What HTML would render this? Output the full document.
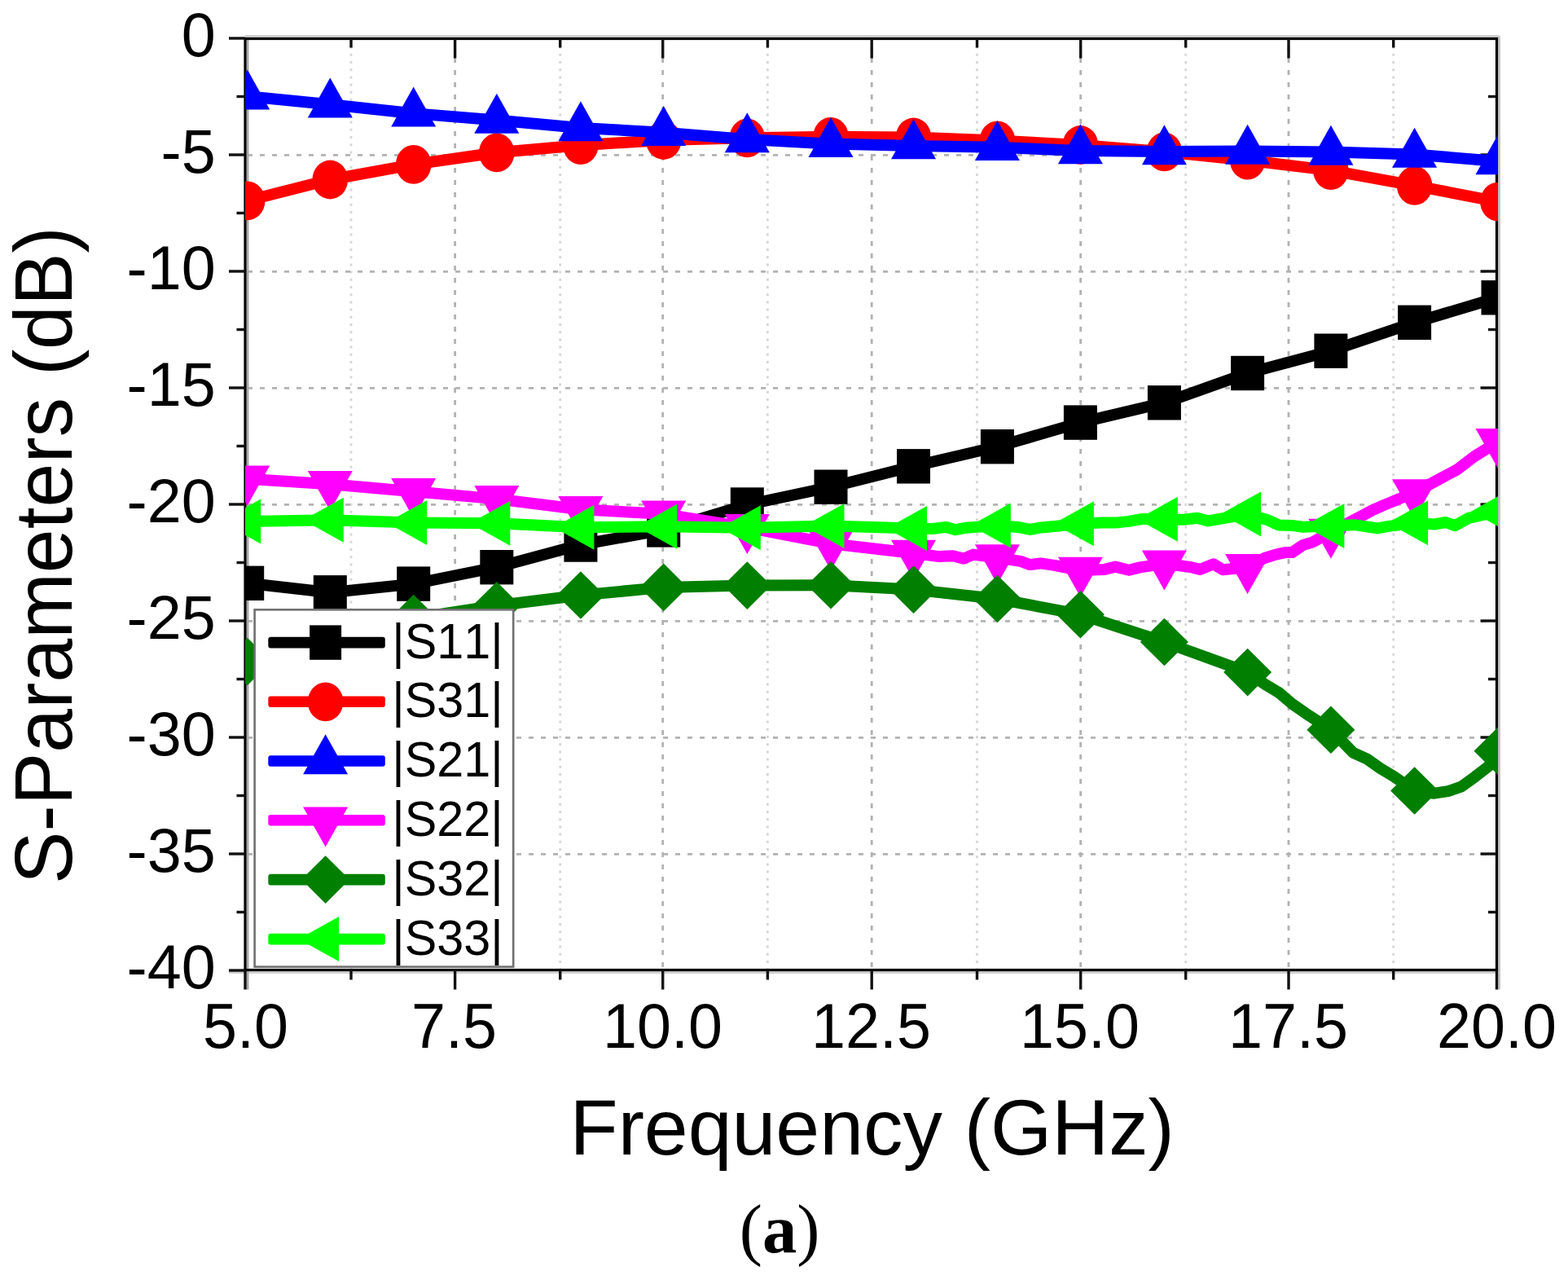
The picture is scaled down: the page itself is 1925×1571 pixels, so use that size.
<!DOCTYPE html>
<html><head><meta charset="utf-8"><title>S-Parameters</title>
<style>html,body{margin:0;padding:0;background:#fff;}svg{display:block;}text{font-kerning:none;font-feature-settings:"kern" 0;}</style>
</head><body>
<svg width="1925" height="1571" viewBox="0 0 1925 1571">
<rect width="1925" height="1571" fill="#fff"/>
<defs><clipPath id="pc"><rect x="301" y="47.5" width="1538" height="1143"/></clipPath></defs>
<line x1="431" y1="47.4" x2="431" y2="1189" stroke="#d6d6d6" stroke-width="2.8" stroke-dasharray="3 6.2"/><line x1="558.6" y1="56" x2="558.6" y2="1189" stroke="#b2b2b2" stroke-width="2.8" stroke-dasharray="6 9"/><line x1="687.7" y1="47.4" x2="687.7" y2="1189" stroke="#d6d6d6" stroke-width="2.8" stroke-dasharray="3 6.2"/><line x1="813.7" y1="56" x2="813.7" y2="1189" stroke="#b2b2b2" stroke-width="2.8" stroke-dasharray="6 9"/><line x1="942.4" y1="47.4" x2="942.4" y2="1189" stroke="#d6d6d6" stroke-width="2.8" stroke-dasharray="3 6.2"/><line x1="1070.2" y1="56" x2="1070.2" y2="1189" stroke="#b2b2b2" stroke-width="2.8" stroke-dasharray="6 9"/><line x1="1199.5" y1="47.4" x2="1199.5" y2="1189" stroke="#d6d6d6" stroke-width="2.8" stroke-dasharray="3 6.2"/><line x1="1326.7" y1="56" x2="1326.7" y2="1189" stroke="#b2b2b2" stroke-width="2.8" stroke-dasharray="6 9"/><line x1="1455.7" y1="47.4" x2="1455.7" y2="1189" stroke="#d6d6d6" stroke-width="2.8" stroke-dasharray="3 6.2"/><line x1="1582" y1="56" x2="1582" y2="1189" stroke="#b2b2b2" stroke-width="2.8" stroke-dasharray="6 9"/><line x1="1710.7" y1="47.4" x2="1710.7" y2="1189" stroke="#d6d6d6" stroke-width="2.8" stroke-dasharray="3 6.2"/><line x1="304" y1="190.3" x2="1835" y2="190.3" stroke="#b2b2b2" stroke-width="2.8" stroke-dasharray="6 9"/><line x1="304" y1="333.3" x2="1835" y2="333.3" stroke="#b2b2b2" stroke-width="2.8" stroke-dasharray="6 9"/><line x1="304" y1="476.3" x2="1835" y2="476.3" stroke="#b2b2b2" stroke-width="2.8" stroke-dasharray="6 9"/><line x1="304" y1="619.3" x2="1835" y2="619.3" stroke="#b2b2b2" stroke-width="2.8" stroke-dasharray="6 9"/><line x1="304" y1="762.3" x2="1835" y2="762.3" stroke="#b2b2b2" stroke-width="2.8" stroke-dasharray="6 9"/><line x1="304" y1="905.3" x2="1835" y2="905.3" stroke="#b2b2b2" stroke-width="2.8" stroke-dasharray="6 9"/><line x1="304" y1="1048.3" x2="1835" y2="1048.3" stroke="#b2b2b2" stroke-width="2.8" stroke-dasharray="6 9"/>
<line x1="301.0" y1="44.5" x2="1840.5" y2="44.5" stroke="#d0d0d0" stroke-width="3"/>
<line x1="1840.5" y1="44.5" x2="1840.5" y2="1214.5" stroke="#c4c4c4" stroke-width="3"/>
<line x1="281" y1="1193.5" x2="1840.5" y2="1193.5" stroke="#d0d0d0" stroke-width="3"/>
<line x1="304" y1="47.5" x2="304" y2="1214.5" stroke="#a8a8a8" stroke-width="3"/>
<rect x="301.0" y="47.5" width="1536.5" height="1143" fill="none" stroke="#000" stroke-width="3.2"/>
<g stroke="#111" stroke-width="3.4"><line x1="301.0" y1="1190.5" x2="301.0" y2="1214.5"/><line x1="431" y1="1190.5" x2="431" y2="1202.5"/><line x1="431" y1="47.5" x2="431" y2="58.5"/><line x1="558.6" y1="1190.5" x2="558.6" y2="1214.5"/><line x1="558.6" y1="47.5" x2="558.6" y2="71.5"/><line x1="687.7" y1="1190.5" x2="687.7" y2="1202.5"/><line x1="687.7" y1="47.5" x2="687.7" y2="58.5"/><line x1="813.7" y1="1190.5" x2="813.7" y2="1214.5"/><line x1="813.7" y1="47.5" x2="813.7" y2="71.5"/><line x1="942.4" y1="1190.5" x2="942.4" y2="1202.5"/><line x1="942.4" y1="47.5" x2="942.4" y2="58.5"/><line x1="1070.2" y1="1190.5" x2="1070.2" y2="1214.5"/><line x1="1070.2" y1="47.5" x2="1070.2" y2="71.5"/><line x1="1199.5" y1="1190.5" x2="1199.5" y2="1202.5"/><line x1="1199.5" y1="47.5" x2="1199.5" y2="58.5"/><line x1="1326.7" y1="1190.5" x2="1326.7" y2="1214.5"/><line x1="1326.7" y1="47.5" x2="1326.7" y2="71.5"/><line x1="1455.7" y1="1190.5" x2="1455.7" y2="1202.5"/><line x1="1455.7" y1="47.5" x2="1455.7" y2="58.5"/><line x1="1582" y1="1190.5" x2="1582" y2="1214.5"/><line x1="1582" y1="47.5" x2="1582" y2="71.5"/><line x1="1710.7" y1="1190.5" x2="1710.7" y2="1202.5"/><line x1="1710.7" y1="47.5" x2="1710.7" y2="58.5"/><line x1="1837.5" y1="1190.5" x2="1837.5" y2="1214.5"/><line x1="281" y1="47" x2="301.0" y2="47"/><line x1="290.5" y1="118.5" x2="301.0" y2="118.5"/><line x1="1827" y1="118.5" x2="1837.5" y2="118.5"/><line x1="281" y1="190" x2="301.0" y2="190"/><line x1="1817.5" y1="190" x2="1837.5" y2="190"/><line x1="290.5" y1="261.5" x2="301.0" y2="261.5"/><line x1="1827" y1="261.5" x2="1837.5" y2="261.5"/><line x1="281" y1="333" x2="301.0" y2="333"/><line x1="1817.5" y1="333" x2="1837.5" y2="333"/><line x1="290.5" y1="404.5" x2="301.0" y2="404.5"/><line x1="1827" y1="404.5" x2="1837.5" y2="404.5"/><line x1="281" y1="476" x2="301.0" y2="476"/><line x1="1817.5" y1="476" x2="1837.5" y2="476"/><line x1="290.5" y1="547.5" x2="301.0" y2="547.5"/><line x1="1827" y1="547.5" x2="1837.5" y2="547.5"/><line x1="281" y1="619" x2="301.0" y2="619"/><line x1="1817.5" y1="619" x2="1837.5" y2="619"/><line x1="290.5" y1="690.5" x2="301.0" y2="690.5"/><line x1="1827" y1="690.5" x2="1837.5" y2="690.5"/><line x1="281" y1="762" x2="301.0" y2="762"/><line x1="1817.5" y1="762" x2="1837.5" y2="762"/><line x1="290.5" y1="833.5" x2="301.0" y2="833.5"/><line x1="1827" y1="833.5" x2="1837.5" y2="833.5"/><line x1="281" y1="905" x2="301.0" y2="905"/><line x1="1817.5" y1="905" x2="1837.5" y2="905"/><line x1="290.5" y1="976.5" x2="301.0" y2="976.5"/><line x1="1827" y1="976.5" x2="1837.5" y2="976.5"/><line x1="281" y1="1048" x2="301.0" y2="1048"/><line x1="1817.5" y1="1048" x2="1837.5" y2="1048"/><line x1="290.5" y1="1119.5" x2="301.0" y2="1119.5"/><line x1="1827" y1="1119.5" x2="1837.5" y2="1119.5"/><line x1="281" y1="1191" x2="301.0" y2="1191"/></g>
<g clip-path="url(#pc)">
<path d="M303.7,715.8 L405.3,727.3 L507.7,716.6 L609.8,696.2 L712.9,668.5 L814.7,650.4 L917.3,619.5 L1020,597.7 L1121.5,572.3 L1224.4,548.2 L1326.4,518.6 L1429.4,494.3 L1531.6,458 L1633.9,430.7 L1736.6,395.8 L1839,365.3" fill="none" stroke="#000000" stroke-width="14" stroke-linejoin="round" stroke-linecap="round"/>
<rect x="283.2" y="694.6" width="41" height="42.4" fill="#000000"/><rect x="384.8" y="706.1" width="41" height="42.4" fill="#000000"/><rect x="487.2" y="695.4" width="41" height="42.4" fill="#000000"/><rect x="589.3" y="675" width="41" height="42.4" fill="#000000"/><rect x="692.4" y="647.3" width="41" height="42.4" fill="#000000"/><rect x="794.2" y="629.2" width="41" height="42.4" fill="#000000"/><rect x="896.8" y="598.3" width="41" height="42.4" fill="#000000"/><rect x="999.5" y="576.5" width="41" height="42.4" fill="#000000"/><rect x="1101" y="551.1" width="41" height="42.4" fill="#000000"/><rect x="1203.9" y="527" width="41" height="42.4" fill="#000000"/><rect x="1305.9" y="497.4" width="41" height="42.4" fill="#000000"/><rect x="1408.9" y="473.1" width="41" height="42.4" fill="#000000"/><rect x="1511.1" y="436.8" width="41" height="42.4" fill="#000000"/><rect x="1613.4" y="409.5" width="41" height="42.4" fill="#000000"/><rect x="1716.1" y="374.6" width="41" height="42.4" fill="#000000"/><rect x="1818.5" y="344.1" width="41" height="42.4" fill="#000000"/>
<path d="M303.7,246.3 L405.3,220.5 L507.7,201.8 L609.8,187.3 L712.9,178.2 L814.7,172 L917.3,169.3 L1020,167.8 L1121.5,168.5 L1224.4,172.4 L1326.4,178 L1429.4,186.3 L1531.6,196.7 L1633.9,209.1 L1736.6,227.8 L1839,247.7" fill="none" stroke="#ff0000" stroke-width="14" stroke-linejoin="round" stroke-linecap="round"/>
<ellipse cx="303.7" cy="246.3" rx="21.8" ry="23.9" fill="#ff0000"/><ellipse cx="405.3" cy="220.5" rx="21.8" ry="23.9" fill="#ff0000"/><ellipse cx="507.7" cy="201.8" rx="21.8" ry="23.9" fill="#ff0000"/><ellipse cx="609.8" cy="187.3" rx="21.8" ry="23.9" fill="#ff0000"/><ellipse cx="712.9" cy="178.2" rx="21.8" ry="23.9" fill="#ff0000"/><ellipse cx="814.7" cy="172" rx="21.8" ry="23.9" fill="#ff0000"/><ellipse cx="917.3" cy="169.3" rx="21.8" ry="23.9" fill="#ff0000"/><ellipse cx="1020" cy="167.8" rx="21.8" ry="23.9" fill="#ff0000"/><ellipse cx="1121.5" cy="168.5" rx="21.8" ry="23.9" fill="#ff0000"/><ellipse cx="1224.4" cy="172.4" rx="21.8" ry="23.9" fill="#ff0000"/><ellipse cx="1326.4" cy="178" rx="21.8" ry="23.9" fill="#ff0000"/><ellipse cx="1429.4" cy="186.3" rx="21.8" ry="23.9" fill="#ff0000"/><ellipse cx="1531.6" cy="196.7" rx="21.8" ry="23.9" fill="#ff0000"/><ellipse cx="1633.9" cy="209.1" rx="21.8" ry="23.9" fill="#ff0000"/><ellipse cx="1736.6" cy="227.8" rx="21.8" ry="23.9" fill="#ff0000"/><ellipse cx="1839" cy="247.7" rx="21.8" ry="23.9" fill="#ff0000"/>
<path d="M303.7,118.2 L405.3,128.2 L507.7,139.3 L609.8,147.5 L712.9,157 L814.7,162.7 L917.3,171 L1020,176.6 L1121.5,179 L1224.4,180.8 L1326.4,185 L1429.4,186 L1531.6,185.5 L1633.9,186.5 L1736.6,189.5 L1839,198" fill="none" stroke="#0000ff" stroke-width="14" stroke-linejoin="round" stroke-linecap="round"/>
<polygon points="303.7,85.5 331.2,134.5 276.2,134.5" fill="#0000ff"/><polygon points="405.3,95.5 432.8,144.5 377.8,144.5" fill="#0000ff"/><polygon points="507.7,106.6 535.2,155.6 480.2,155.6" fill="#0000ff"/><polygon points="609.8,114.8 637.3,163.8 582.3,163.8" fill="#0000ff"/><polygon points="712.9,124.3 740.4,173.3 685.4,173.3" fill="#0000ff"/><polygon points="814.7,130 842.2,179 787.2,179" fill="#0000ff"/><polygon points="917.3,138.3 944.8,187.3 889.8,187.3" fill="#0000ff"/><polygon points="1020,143.9 1047.5,192.9 992.5,192.9" fill="#0000ff"/><polygon points="1121.5,146.3 1149,195.3 1094,195.3" fill="#0000ff"/><polygon points="1224.4,148.1 1251.9,197.1 1196.9,197.1" fill="#0000ff"/><polygon points="1326.4,152.3 1353.9,201.3 1298.9,201.3" fill="#0000ff"/><polygon points="1429.4,153.3 1456.9,202.3 1401.9,202.3" fill="#0000ff"/><polygon points="1531.6,152.8 1559.1,201.8 1504.1,201.8" fill="#0000ff"/><polygon points="1633.9,153.8 1661.4,202.8 1606.4,202.8" fill="#0000ff"/><polygon points="1736.6,156.8 1764.1,205.8 1709.1,205.8" fill="#0000ff"/><polygon points="1839,165.3 1866.5,214.3 1811.5,214.3" fill="#0000ff"/>
<path d="M303.7,587.8 L405.3,594.2 L507.7,603.3 L609.8,612.4 L712.9,625.3 L814.7,630.8 L917.3,647.3 L1020,667.3 L1121.5,679 L1153.2,683.1 L1169.9,682.3 L1183.2,685.6 L1194.8,680.6 L1224.4,684.5 L1253,688.9 L1264.6,693.1 L1277.9,691.4 L1294.5,693.9 L1326.4,700 L1356,698.9 L1369.3,695.6 L1386,699.7 L1399.3,696.4 L1429.4,691.8 L1461.6,696 L1473.2,698.9 L1489.8,692.2 L1501.4,699.2 L1531.6,696.3 L1553,684.7 L1566.3,680.6 L1577.9,678.1 L1586.2,678.1 L1599.5,669 L1611.2,665.6 L1633.9,653 L1684,626.7 L1698,620.4 L1736.6,604.5 L1768,587.5 L1789,576.3 L1810,560.2 L1839,542.2" fill="none" stroke="#ff00ff" stroke-width="14" stroke-linejoin="round" stroke-linecap="round"/>
<polygon points="303.7,620.5 331.2,571.5 276.2,571.5" fill="#ff00ff"/><polygon points="405.3,626.9 432.8,577.9 377.8,577.9" fill="#ff00ff"/><polygon points="507.7,636 535.2,587 480.2,587" fill="#ff00ff"/><polygon points="609.8,645.1 637.3,596.1 582.3,596.1" fill="#ff00ff"/><polygon points="712.9,658 740.4,609 685.4,609" fill="#ff00ff"/><polygon points="814.7,663.5 842.2,614.5 787.2,614.5" fill="#ff00ff"/><polygon points="917.3,680 944.8,631 889.8,631" fill="#ff00ff"/><polygon points="1020,700 1047.5,651 992.5,651" fill="#ff00ff"/><polygon points="1121.5,711.7 1149,662.7 1094,662.7" fill="#ff00ff"/><polygon points="1224.4,717.2 1251.9,668.2 1196.9,668.2" fill="#ff00ff"/><polygon points="1326.4,732.7 1353.9,683.7 1298.9,683.7" fill="#ff00ff"/><polygon points="1429.4,724.5 1456.9,675.5 1401.9,675.5" fill="#ff00ff"/><polygon points="1531.6,729 1559.1,680 1504.1,680" fill="#ff00ff"/><polygon points="1633.9,685.7 1661.4,636.7 1606.4,636.7" fill="#ff00ff"/><polygon points="1736.6,637.2 1764.1,588.2 1709.1,588.2" fill="#ff00ff"/><polygon points="1839,574.9 1866.5,525.9 1811.5,525.9" fill="#ff00ff"/>
<path d="M303.7,812 L405.3,782 L507.7,759 L609.8,743.2 L712.9,730.5 L814.7,720.9 L917.3,718.6 L1020,718.2 L1121.5,723.6 L1224.4,735 L1326.4,754.2 L1429.4,788 L1531.6,825.1 L1553.2,839.9 L1569.9,849.9 L1586.5,864 L1603.1,875.6 L1633.9,895.7 L1661.3,923.8 L1677.9,931.3 L1694.5,943 L1711.2,952.9 L1736.6,970.5 L1761,973.7 L1777.6,971.2 L1794.3,965.4 L1810.9,953.3 L1827.5,940.5 L1839,921.8" fill="none" stroke="#007f00" stroke-width="14" stroke-linejoin="round" stroke-linecap="round"/>
<polygon points="303.7,782.7 333.2,812 303.7,841.3 274.2,812" fill="#007f00"/><polygon points="405.3,752.7 434.8,782 405.3,811.3 375.8,782" fill="#007f00"/><polygon points="507.7,729.7 537.2,759 507.7,788.3 478.2,759" fill="#007f00"/><polygon points="609.8,713.9 639.3,743.2 609.8,772.5 580.3,743.2" fill="#007f00"/><polygon points="712.9,701.2 742.4,730.5 712.9,759.8 683.4,730.5" fill="#007f00"/><polygon points="814.7,691.6 844.2,720.9 814.7,750.2 785.2,720.9" fill="#007f00"/><polygon points="917.3,689.3 946.8,718.6 917.3,747.9 887.8,718.6" fill="#007f00"/><polygon points="1020,688.9 1049.5,718.2 1020,747.5 990.5,718.2" fill="#007f00"/><polygon points="1121.5,694.3 1151,723.6 1121.5,752.9 1092,723.6" fill="#007f00"/><polygon points="1224.4,705.7 1253.9,735 1224.4,764.3 1194.9,735" fill="#007f00"/><polygon points="1326.4,724.9 1355.9,754.2 1326.4,783.5 1296.9,754.2" fill="#007f00"/><polygon points="1429.4,758.7 1458.9,788 1429.4,817.3 1399.9,788" fill="#007f00"/><polygon points="1531.6,795.8 1561.1,825.1 1531.6,854.4 1502.1,825.1" fill="#007f00"/><polygon points="1633.9,866.4 1663.4,895.7 1633.9,925 1604.4,895.7" fill="#007f00"/><polygon points="1736.6,941.2 1766.1,970.5 1736.6,999.8 1707.1,970.5" fill="#007f00"/><polygon points="1839,892.5 1868.5,921.8 1839,951.1 1809.5,921.8" fill="#007f00"/>
<path d="M303.7,640 L405.3,638.2 L507.7,641.4 L609.8,642.3 L712.9,647.3 L814.7,646.3 L917.3,647.8 L1020,645.5 L1121.5,648.6 L1144.9,649 L1161.6,646.9 L1173.2,650.2 L1186.5,647.7 L1224.4,645 L1249.7,646.9 L1264.6,649.9 L1277.9,647.4 L1294.5,646 L1326.4,642.7 L1352.7,641.6 L1369.3,641.6 L1386,639.9 L1402.6,636.9 L1429.4,637.3 L1453.2,637.7 L1469.9,635.7 L1483.2,639.4 L1494.8,637.4 L1531.6,630.9 L1556.3,638.2 L1569.6,644.4 L1586.2,644.9 L1599.5,646.8 L1633.9,645.5 L1663,644.2 L1691,648.4 L1705,645.9 L1736.6,641.8 L1761,643.5 L1775,641 L1786.2,645.2 L1803,635.8 L1839,627.7" fill="none" stroke="#00ff00" stroke-width="14" stroke-linejoin="round" stroke-linecap="round"/>
<polygon points="270.7,640 320.2,612.5 320.2,667.5" fill="#00ff00"/><polygon points="372.3,638.2 421.8,610.7 421.8,665.7" fill="#00ff00"/><polygon points="474.7,641.4 524.2,613.9 524.2,668.9" fill="#00ff00"/><polygon points="576.8,642.3 626.3,614.8 626.3,669.8" fill="#00ff00"/><polygon points="679.9,647.3 729.4,619.8 729.4,674.8" fill="#00ff00"/><polygon points="781.7,646.3 831.2,618.8 831.2,673.8" fill="#00ff00"/><polygon points="884.3,647.8 933.8,620.3 933.8,675.3" fill="#00ff00"/><polygon points="987,645.5 1036.5,618 1036.5,673" fill="#00ff00"/><polygon points="1088.5,648.6 1138,621.1 1138,676.1" fill="#00ff00"/><polygon points="1191.4,645 1240.9,617.5 1240.9,672.5" fill="#00ff00"/><polygon points="1293.4,642.7 1342.9,615.2 1342.9,670.2" fill="#00ff00"/><polygon points="1396.4,637.3 1445.9,609.8 1445.9,664.8" fill="#00ff00"/><polygon points="1498.6,630.9 1548.1,603.4 1548.1,658.4" fill="#00ff00"/><polygon points="1600.9,645.5 1650.4,618 1650.4,673" fill="#00ff00"/><polygon points="1703.6,641.8 1753.1,614.3 1753.1,669.3" fill="#00ff00"/><polygon points="1806,627.7 1855.5,600.2 1855.5,655.2" fill="#00ff00"/>
</g>
<rect x="312.6" y="748.3" width="317.6" height="438.3" fill="#fff" stroke="#707070" stroke-width="2.6"/>
<rect x="329.3" y="781.8" width="143.5" height="13.6" rx="3" fill="#000000"/>
<rect x="380.1" y="767.4" width="39" height="42.4" fill="#000000"/>
<text transform="translate(481.3,807.5) scale(1,1.04)" font-size="59.3" font-family="&quot;Liberation Sans&quot;, Arial, sans-serif">|S11|</text>
<rect x="329.3" y="854.5" width="143.5" height="13.6" rx="3" fill="#ff0000"/>
<ellipse cx="399.6" cy="861.3" rx="21.8" ry="23.9" fill="#ff0000"/>
<text transform="translate(481.3,880.2) scale(1,1.04)" font-size="59.3" font-family="&quot;Liberation Sans&quot;, Arial, sans-serif">|S31|</text>
<rect x="329.3" y="927.2" width="143.5" height="13.6" rx="3" fill="#0000ff"/>
<polygon points="399.6,901.3 427.1,950.3 372.1,950.3" fill="#0000ff"/>
<text transform="translate(481.3,952.9) scale(1,1.04)" font-size="59.3" font-family="&quot;Liberation Sans&quot;, Arial, sans-serif">|S21|</text>
<rect x="329.3" y="1000" width="143.5" height="13.6" rx="3" fill="#ff00ff"/>
<polygon points="399.6,1039.5 427.1,990.5 372.1,990.5" fill="#ff00ff"/>
<text transform="translate(481.3,1025.7) scale(1,1.04)" font-size="59.3" font-family="&quot;Liberation Sans&quot;, Arial, sans-serif">|S22|</text>
<rect x="329.3" y="1072.8" width="143.5" height="13.6" rx="3" fill="#007f00"/>
<polygon points="399.6,1050.3 429.1,1079.6 399.6,1108.9 370.1,1079.6" fill="#007f00"/>
<text transform="translate(481.3,1098.5) scale(1,1.04)" font-size="59.3" font-family="&quot;Liberation Sans&quot;, Arial, sans-serif">|S32|</text>
<rect x="329.3" y="1145.8" width="143.5" height="13.6" rx="3" fill="#00ff00"/>
<polygon points="366.6,1152.6 416.1,1125.1 416.1,1180.1" fill="#00ff00"/>
<text transform="translate(481.3,1171.5) scale(1,1.04)" font-size="59.3" font-family="&quot;Liberation Sans&quot;, Arial, sans-serif">|S33|</text>
<g font-size="75.5" font-family="&quot;Liberation Sans&quot;, Arial, sans-serif" fill="#000"><text x="264.7" y="68.6" text-anchor="end">0</text><text x="264.7" y="211.6" text-anchor="end">-5</text><text x="264.7" y="354.6" text-anchor="end">-10</text><text x="264.7" y="497.6" text-anchor="end">-15</text><text x="264.7" y="640.6" text-anchor="end">-20</text><text x="264.7" y="783.6" text-anchor="end">-25</text><text x="264.7" y="926.6" text-anchor="end">-30</text><text x="264.7" y="1069.6" text-anchor="end">-35</text><text x="264.7" y="1212.6" text-anchor="end">-40</text><text transform="translate(301.4,1286.3) scale(1,1.033)" text-anchor="middle">5.0</text><text transform="translate(557.4,1286.3) scale(1,1.033)" text-anchor="middle">7.5</text><text transform="translate(813.4,1286.3) scale(1,1.033)" text-anchor="middle">10.0</text><text transform="translate(1069.4,1286.3) scale(1,1.033)" text-anchor="middle">12.5</text><text transform="translate(1325.4,1286.3) scale(1,1.033)" text-anchor="middle">15.0</text><text transform="translate(1581.4,1286.3) scale(1,1.033)" text-anchor="middle">17.5</text><text transform="translate(1837.4,1286.3) scale(1,1.033)" text-anchor="middle">20.0</text></g>
<text x="699.5" y="1417" font-size="96.8" font-family="&quot;Liberation Sans&quot;, Arial, sans-serif">Frequency (GHz)</text>
<text transform="translate(87.5,1085) rotate(-90) scale(1,1.025)" x="0" y="0" font-size="96.8" font-family="&quot;Liberation Sans&quot;, Arial, sans-serif">S-Parameters (dB)</text>
<text x="957" y="1537" text-anchor="middle" font-size="84.5" font-family="&quot;Liberation Serif&quot;, &quot;Times New Roman&quot;, serif">(<tspan font-weight="bold">a</tspan>)</text>
</svg>
</body></html>
